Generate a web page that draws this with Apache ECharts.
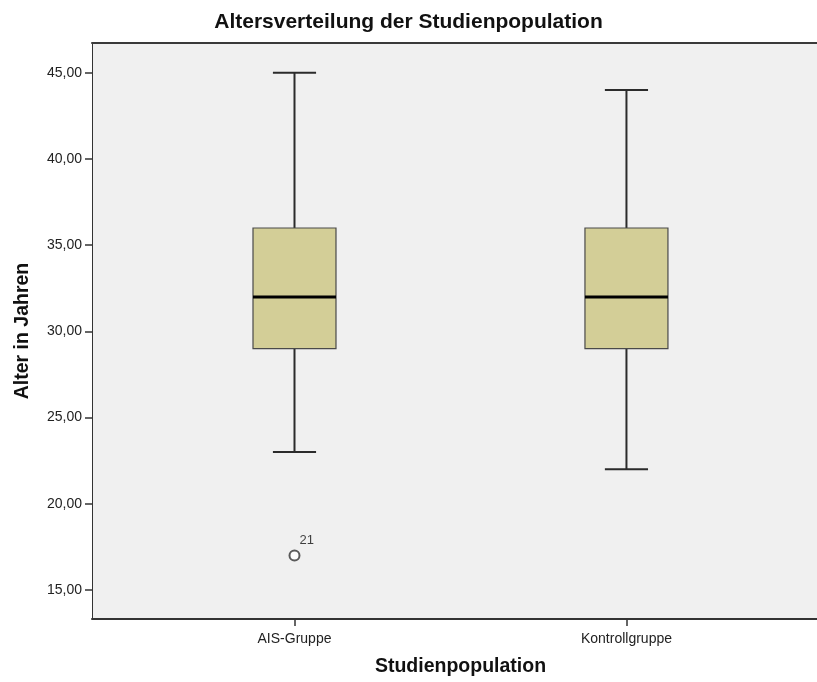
<!DOCTYPE html>
<html>
<head>
<meta charset="utf-8">
<title>Altersverteilung der Studienpopulation</title>
<script src="https://cdn.jsdelivr.net/npm/echarts@6/dist/echarts.min.js"></script>
<style>
  html, body { margin: 0; padding: 0; background: #ffffff; }
  #chart { width: 817px; height: 682px; }
</style>
</head>
<body>
<div id="chart"></div>
<script>
// Groups on the horizontal axis (placed at x = 1, 2, ...)
const categories = ['AIS-Gruppe', 'Kontrollgruppe'];

// Five-number summary per group (age in years)
const whiskerLow  = [23, 22];
const quartile1   = [29, 29];
const medians     = [32, 32];
const quartile3   = [36, 36];
const whiskerHigh = [45, 44];

// Outliers: [group index, age, case number]
const outliers = [[0, 17, '21']];

// Tick values on the age axis
const ageTicks = [15, 20, 25, 30, 35, 40, 45];

const FONT = 'Liberation Sans, Arial, sans-serif';
const BOX_WIDTH = 0.25;   // in x-axis units
const CAP_WIDTH = 0.13;

const boxData = categories.map((c, i) => [
  i + 1, whiskerLow[i], quartile1[i], medians[i], quartile3[i], whiskerHigh[i]
]);
const outlierData = outliers.map(o => [o[0] + 1, o[1], o[2]]);

function renderBox(params, api) {
  const x = api.value(0);
  const pLow = api.coord([x, api.value(1)]);
  const pQ1 = api.coord([x, api.value(2)]);
  const pMed = api.coord([x, api.value(3)]);
  const pQ3 = api.coord([x, api.value(4)]);
  const pHigh = api.coord([x, api.value(5)]);
  const bw = api.size([BOX_WIDTH, 0])[0];
  const cw = api.size([CAP_WIDTH, 0])[0];
  const cx = pQ1[0];
  const whiskerStyle = { stroke: '#2b2b2b', lineWidth: 2, fill: null };
  return {
    type: 'group',
    children: [
      { type: 'line', shape: { x1: cx, y1: pQ3[1], x2: cx, y2: pHigh[1] }, style: whiskerStyle },
      { type: 'line', shape: { x1: cx, y1: pQ1[1], x2: cx, y2: pLow[1] }, style: whiskerStyle },
      { type: 'line', shape: { x1: cx - cw / 2, y1: pHigh[1], x2: cx + cw / 2, y2: pHigh[1] }, style: whiskerStyle },
      { type: 'line', shape: { x1: cx - cw / 2, y1: pLow[1], x2: cx + cw / 2, y2: pLow[1] }, style: whiskerStyle },
      { type: 'rect', shape: { x: cx - bw / 2, y: pQ3[1], width: bw, height: pQ1[1] - pQ3[1] },
        style: { fill: '#d3ce97', stroke: '#4a4a4a', lineWidth: 1.2 } },
      { type: 'line', shape: { x1: cx - bw / 2, y1: pMed[1], x2: cx + bw / 2, y2: pMed[1] },
        style: { stroke: '#000000', lineWidth: 3 } }
    ]
  };
}

const chart = echarts.init(document.getElementById('chart'), null, { renderer: 'canvas' });
chart.setOption({
  backgroundColor: '#ffffff',
  animation: false,
  title: {
    text: 'Altersverteilung der Studienpopulation',
    left: 'center',
    top: 7,
    padding: [5, 0, 5, 10],
    textStyle: { fontFamily: FONT, fontSize: 21, fontWeight: 'bold', color: '#111' }
  },
  grid: {
    left: 92, top: 43, right: 0, bottom: 62,
    show: true, backgroundColor: '#f0f0f0', borderWidth: 0
  },
  xAxis: [
    {
      type: 'value',
      min: 0.39,
      max: 2.574,
      name: 'Studienpopulation',
      nameLocation: 'middle',
      nameGap: 38,
      nameTextStyle: { fontFamily: FONT, fontSize: 19.5, fontWeight: 'bold', color: '#111', padding: [0, 0, 0, 12] },
      axisLine: { show: true, lineStyle: { color: '#333', width: 2 } },
      axisTick: { show: true, customValues: [1, 2], length: 7, lineStyle: { color: '#333', width: 1.5 } },
      axisLabel: {
        customValues: [1, 2],
        formatter: v => categories[Math.round(v) - 1] || '',
        fontFamily: FONT, fontSize: 14, color: '#222', margin: 13
      },
      splitLine: { show: false }
    },
    {
      // frame line along the top of the plot
      type: 'value',
      position: 'top',
      min: 0.39,
      max: 2.574,
      axisLine: { show: true, lineStyle: { color: '#3a3a3a', width: 2 } },
      axisTick: { show: false },
      axisLabel: { show: false },
      splitLine: { show: false }
    }
  ],
  yAxis: {
    type: 'value',
    min: 13.32,
    max: 46.73,
    name: 'Alter in Jahren',
    nameLocation: 'middle',
    nameGap: 59,
    nameTextStyle: { fontFamily: FONT, fontSize: 19.5, fontWeight: 'bold', color: '#111' },
    axisLine: { show: true, lineStyle: { color: '#333', width: 1 } },
    axisTick: { show: true, customValues: ageTicks, length: 7, lineStyle: { color: '#333', width: 1.5 } },
    axisLabel: {
      customValues: ageTicks,
      formatter: v => v.toFixed(2).replace('.', ','),
      fontFamily: FONT, fontSize: 14, color: '#222', margin: 10
    },
    splitLine: { show: false }
  },
  series: [
    {
      name: 'Altersverteilung',
      type: 'custom',
      renderItem: renderBox,
      encode: { x: 0, y: [1, 2, 3, 4, 5] },
      data: boxData,
      z: 2
    },
    {
      name: 'Ausreißer',
      type: 'scatter',
      symbol: 'emptyCircle',
      symbolSize: 10,
      itemStyle: { color: '#333', borderColor: '#333', borderWidth: 1.5 },
      label: {
        show: true,
        position: [11, -16],
        formatter: p => p.data[2],
        fontFamily: FONT, fontSize: 13, color: '#111'
      },
      data: outlierData,
      z: 3
    }
  ]
});
</script>
</body>
</html>
